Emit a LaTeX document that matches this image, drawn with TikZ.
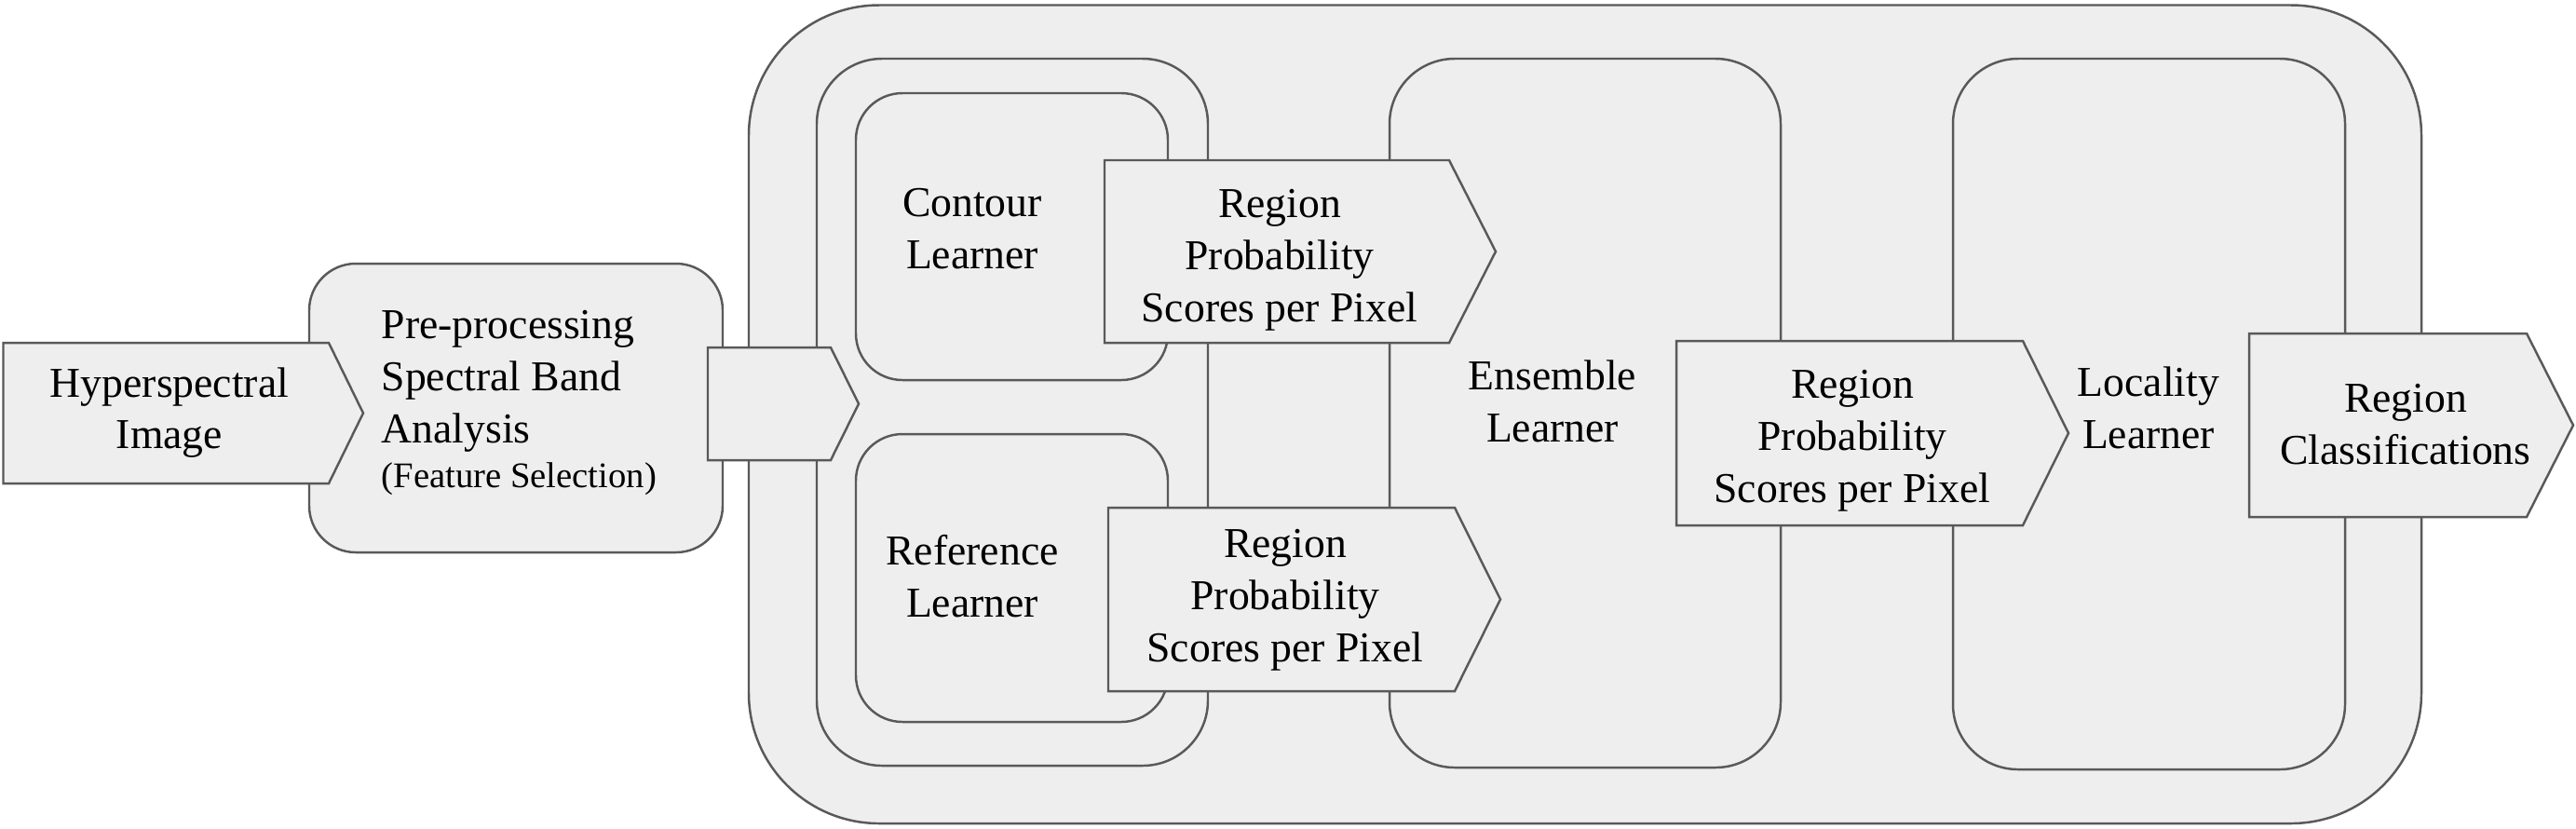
\documentclass[tikz,border=0pt]{standalone}
\usepackage{fontspec}
\setmainfont{Liberation Serif}
\usepackage{tikz}
\definecolor{edgegray}{HTML}{595959}
\definecolor{boxfill}{HTML}{EEEEEE}

\begin{document}
\begin{tikzpicture}[scale=0.1,
	box/.style={draw=edgegray, fill=boxfill, line width=0.7pt},
	lbl/.style={align=center, font=\fontsize{13}{15.9}\selectfont}]
	\tikzstyle{every node}+=[inner sep=0pt]
	\useasboundingbox (0,0) rectangle (276.6,-88.9);
	% learner frames
	\draw [box, rounded corners=1.4cm] (80.4,-0.55) rectangle (260.0,-88.4);
	\draw [box, rounded corners=0.7cm] (87.7,-6.3) rectangle (129.7,-82.2);
	\draw [box, rounded corners=0.5cm] (91.9,-10.0) rectangle (125.4,-40.8);
	\draw (104.4,-24.6) node (contour) [lbl] {Contour\\Learner};
	\draw [box, rounded corners=0.5cm] (91.9,-46.6) rectangle (125.4,-77.5);
	\draw (104.4,-61.85) node (reference) [lbl] {Reference\\Learner};
	\draw [box, rounded corners=0.7cm] (149.2,-6.3) rectangle (191.2,-82.4);
	\draw (166.7,-43.1) node (ensemble) [lbl] {Ensemble\\Learner};
	\draw [box, rounded corners=0.7cm] (209.7,-6.3) rectangle (251.8,-82.6);
	\draw (230.7,-43.8) node (locality) [lbl] {Locality\\Learner};
	% pre-processing
	\draw [box, rounded corners=0.5cm] (33.2,-28.3) rectangle (77.6,-59.3);
	\draw (40.9,-33.3) node (prep) [lbl, align=left, anchor=north west]
		{Pre-processing\\Spectral Band\\Analysis\\[-2.3pt]{\fontsize{11}{13}\selectfont (Feature Selection)}};
	% arrows
	\draw [box] (0.35,-36.8) -- (35.3,-36.8) -- (39.0,-44.35) -- (35.3,-51.9) -- (0.35,-51.9) -- cycle;
	\draw (18.2,-44.3) node (hyper) [lbl] {Hyperspectral\\Image};
	\draw [box] (76.0,-37.3) -- (89.2,-37.3) -- (92.2,-43.35) -- (89.2,-49.4) -- (76.0,-49.4) -- cycle;
	\draw [box] (118.6,-17.2) -- (155.6,-17.2) -- (160.6,-27.0) -- (155.6,-36.8) -- (118.6,-36.8) -- cycle;
	\draw (137.4,-27.95) node (probA) [lbl] {Region\\Probability\\Scores per Pixel};
	\draw [box] (119.0,-54.5) -- (156.2,-54.5) -- (161.1,-64.35) -- (156.2,-74.2) -- (119.0,-74.2) -- cycle;
	\draw (138.0,-64.45) node (probB) [lbl] {Region\\Probability\\Scores per Pixel};
	\draw [box] (180.0,-36.6) -- (217.2,-36.6) -- (222.1,-46.5) -- (217.2,-56.4) -- (180.0,-56.4) -- cycle;
	\draw (198.9,-47.3) node (probC) [lbl] {Region\\Probability\\Scores per Pixel};
	\draw [box] (241.5,-35.8) -- (271.3,-35.8) -- (276.3,-45.65) -- (271.3,-55.5) -- (241.5,-55.5) -- cycle;
	\draw (258.3,-45.55) node (classes) [lbl] {Region\\Classifications};
\end{tikzpicture}
\end{document}
